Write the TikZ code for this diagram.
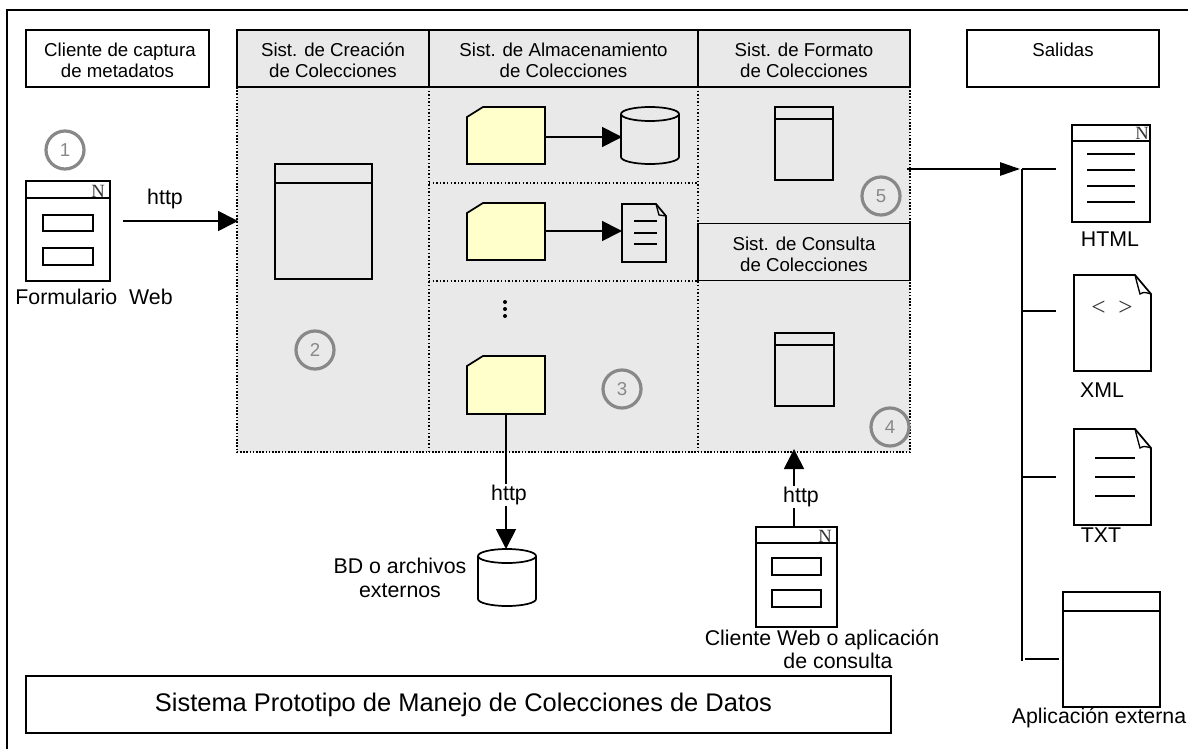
\documentclass[tikz,border=0pt]{standalone}
\usepackage{fontspec}
\setmainfont{Liberation Sans}
\newfontfamily\serifN{Liberation Serif}
\usetikzlibrary{arrows.meta}
\definecolor{panel}{HTML}{E9E9E9}
\definecolor{notey}{HTML}{FFFFCC}
\definecolor{ring}{HTML}{888888}
\tikzset{
  x=0.75pt,y=-0.75pt,
  line/.style={draw=black,line width=1.3pt},
  thin line/.style={draw=black,line width=1pt},
  hdr/.style={draw=black,line width=1.4pt,fill=panel},
  dots/.style={draw=black,line width=1.2pt,dash pattern=on 1.2pt off 1.2pt},
  thindots/.style={draw=black,line width=0.9pt,dash pattern=on 1.1pt off 1.6pt},
  lbl/.style={font=\fontsize{14}{15.75}\selectfont,align=center,inner sep=0pt,text height=29pt},
  lblb/.style={font=\fontsize{16}{17.5}\selectfont,align=center,inner sep=0pt},
  bigarrow/.style={draw=black,line width=1.3pt,-{Triangle[length=15pt,width=15pt]}},
  smallarrow/.style={draw=black,line width=1.3pt,-{Triangle[length=15pt,width=10pt]}},
  num/.style={circle,draw=ring,line width=2.4pt,text=ring,minimum size=28.5pt,inner sep=0pt,font=\fontsize{14}{14}\selectfont},
  httpbg/.style={fill=white,inner sep=1pt,font=\fontsize{16}{16}\selectfont},
  nmark/.style={inner sep=0pt,text=black!80,font=\serifN\fontsize{14}{14}\selectfont}
}
\newcommand{\notepic}[5]{% name x1 y1 x2 y2
  \draw[line,fill=notey] (#2,#3+10) -- (#2+16,#3) -- (#4,#3) -- (#4,#5) -- (#2,#5) -- cycle;
  \coordinate (#1) at ({(#2+#4)/2},{(#3+#5)/2});}
\newcommand{\cyl}[5]{% fill x1 y1 x2 y2
  \draw[line,fill=#1] (#2,#3+7) arc[start angle=180,end angle=360,x radius={(#4-#2)/2},y radius=7]
     -- (#4,#5-7) arc[start angle=0,end angle=180,x radius={(#4-#2)/2},y radius=7] -- cycle;
  \draw[line] (#2,#3+7) arc[start angle=180,end angle=0,x radius={(#4-#2)/2},y radius=7];}
\newcommand{\winpic}[5]{% x1 y1 x2 y2 titleY
  \draw[line] (#1,#2) rectangle (#3,#4);
  \draw[line] (#1,#5) -- (#3,#5);
  \draw[line,line width=1.7pt] (#1,#2) -- (#3,#2);}
\newcommand{\foldpage}[4]{% x1 y1 x2 y2
  \draw[line,fill=white] (#1,#2) -- (#3-16,#2) -- (#3,#2+19) -- (#3,#4) -- (#1,#4) -- cycle;
  \draw[thin line] (#3-16,#2) .. controls (#3-14,#2+8) .. (#3-11,#2+19) .. controls (#3-7,#2+17) .. (#3,#2+19);}
\begin{document}
\begin{tikzpicture}
\useasboundingbox (0,0) rectangle (1188,749);
% outer frame
\draw[line,line width=1.5pt] (1188,10.5) -- (7,10.5) -- (7,749);
% panel
\fill[panel] (237,30) rectangle (910,452);
\draw[dots] (237,87) -- (237,452) -- (910,452) -- (910,30);
\draw[thindots] (429,87) -- (429,452);
\draw[thindots] (698,87) -- (698,452);
\draw[thindots] (429,183) -- (698,183);
\draw[thindots] (429,281) -- (698,281);
% headers
\node[hdr,lbl,minimum width=144pt,minimum height=42.75pt] (h1) at (333,58.5) {Sist. de Creación\\de Colecciones};
\node[hdr,lbl,minimum width=201.75pt,minimum height=42.75pt] (h2) at (563.5,58.5) {Sist. de Almacenamiento\\de Colecciones};
\node[hdr,lbl,minimum width=159pt,minimum height=42.75pt] (h3) at (804,58.5) {Sist. de Formato\\de Colecciones};
\node[hdr,lbl,minimum width=159pt,minimum height=42.75pt] (h4) at (804,252) {Sist. de Consulta\\de Colecciones};
\node[draw=black,line width=1.4pt,lbl,minimum width=137.25pt,minimum height=42.75pt] (c) at (117.5,58.5) {\hspace*{3.75pt}Cliente de captura\\de metadatos};
\node[draw=black,line width=1.4pt,lbl,minimum width=144pt,minimum height=42.75pt] (s) at (1063,58.5) {Salidas\\~};
% form left
\winpic{26}{181}{110}{281}{198}
\draw[line,line width=1.7pt] (26,198) -- (110,198) (26,181) -- (26,198) (110,181) -- (110,198);
\node[nmark] (n1) at (98,191) {N};
\draw[line] (43,215) rectangle (93,231);
\draw[line] (43,248) rectangle (93,265);
\node[num] (c1) at (65,150) {1};
\node[lblb] (fw) at (94,297) {Formulario\ \ Web};
% window creation
\winpic{275}{164}{372}{279}{183}
\coordinate (w1w) at (238,221);
\coordinate (f1e) at (123,221);
\draw[bigarrow] (f1e) -- (w1w);
\node[lblb] (h) at (165,199) {http};
\node[num] (c2) at (315,350) {2};
% storage
\notepic{n1a}{467}{107}{545}{164}
\cyl{panel}{621}{107}{679}{164}
\coordinate (cy1) at (622,137);
\draw[bigarrow] (546,137) -- (cy1);
\notepic{n2a}{467}{203}{545}{260}
\draw[line,fill=panel] (622,204) -- (656,204) -- (666,216) -- (666,262) -- (622,262) -- cycle;
\draw[thin line] (656,204) -- (659,215) -- (666,216);
\draw[line] (634,221) -- (657,221) (634,233) -- (657,233) (634,244) -- (657,244);
\coordinate (d2) at (622,231);
\draw[bigarrow] (545,231) -- (d2);
\fill (505,302) circle (1.5pt) (505,309) circle (1.5pt) (505,316) circle (1.5pt);
\notepic{n3a}{467}{356}{545}{414}
\node[num] (c3) at (622,389) {3};
% format window
\winpic{775}{107}{833}{180}{119}
\node[num] (c5) at (881,196) {5};
\winpic{775}{333}{834}{406}{345}
\draw[line,line width=1.7pt] (775,345) -- (834,345) (775,333) -- (775,345) (834,333) -- (834,345);
\node[num] (c4) at (890,427) {4};
% external DB
\cyl{white}{478}{549}{536}{606}
\coordinate (db) at (506,549);
\coordinate (n3b) at (506,414);
\draw[bigarrow] (n3b) -- (db);
\node[httpbg] (h2l) at (509,495) {http};
\node[lblb] (bd) at (400,578) {BD o archivos\\externos};
% query client
\coordinate (q) at (794,449);
\coordinate (qs) at (794,527);
\draw[bigarrow] (qs) -- (q);
\node[httpbg] (h3l) at (801,497) {http};
\draw[line,fill=white] (756,527) rectangle (837,627);
\draw[line,line width=1.7pt] (756,527) rectangle (837,543);
\node[nmark] (n2) at (825,536) {N};
\draw[line] (772,558) rectangle (821,575);
\draw[line] (772,590) rectangle (821,607);
\node[lblb] (cw) at (822,649) {Cliente Web o aplicación\\\hspace*{24pt}de consulta};
% title
\node[draw=black,line width=1.4pt,minimum width=648.75pt,minimum height=42.75pt,inner sep=0pt,font=\fontsize{19.1}{19.1}\selectfont] (t) at (458.5,704.5) {\hspace*{7.5pt}Sistema Prototipo de Manejo de Colecciones de Datos};
% outputs
\coordinate (b) at (1020,169);
\coordinate (p5) at (907,169);
\draw[smallarrow] (p5) -- (b);
\draw[line] (1022,169) -- (1022,661);
\draw[line] (1022,169) -- (1056,169);
\draw[line] (1022,311) -- (1056,311);
\draw[line] (1022,477) -- (1056,477);
\draw[line] (1025,659) -- (1059,659);
% html
\draw[line] (1072,125) rectangle (1150,222);
\draw[line,line width=1.7pt] (1072,125) rectangle (1150,141);
\node[nmark] (n3) at (1142,133) {N};
\draw[line] (1087,154) -- (1135,154) (1087,170) -- (1135,170) (1087,186) -- (1135,186) (1087,202) -- (1135,202);
\node[lblb] (html) at (1110,239) {HTML};
% xml
\foldpage{1074}{275}{1151}{371}
\node[inner sep=0pt,text=black!80,font=\serifN\fontsize{19}{19}\selectfont] (lt) at (1112,308) {<\ \ >};
\node[lblb] (xml) at (1102,390) {XML};
% txt
\foldpage{1074}{429}{1151}{525}
\draw[line] (1095,458) -- (1135,458) (1095,477) -- (1135,477) (1095,496) -- (1135,496);
\node[lblb] (txt) at (1101,535) {TXT};
% app
\winpic{1063}{592}{1160}{707}{611}
\draw[line,line width=1.7pt] (1063,611) -- (1160,611) (1063,592) -- (1063,611) (1160,592) -- (1160,611);
\node[lblb] (app) at (1099,718) {Aplicación externa};
\end{tikzpicture}
\end{document}
